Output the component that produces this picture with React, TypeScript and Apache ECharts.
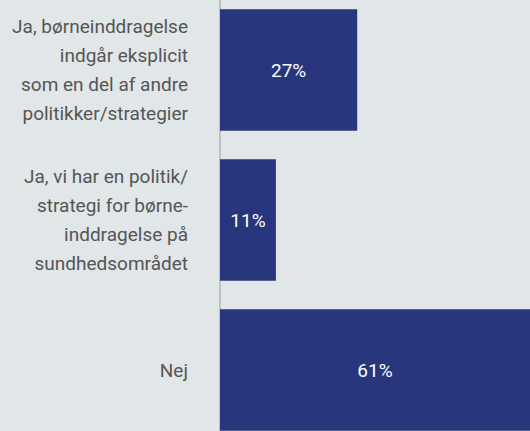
import React, { useEffect, useRef } from "react";
import * as echarts from "echarts";

const categories = [
  "Ja, børneinddragelse\nindgår eksplicit\nsom en del af andre\npolitikker/strategier",
  "Ja, vi har en politik/\nstrategi for børne-\ninddragelse på\nsundhedsområdet",
  "Nej",
];
const values = [27, 11, 61];

export default function App() {
  const ref = useRef<HTMLDivElement>(null);
  useEffect(() => {
    document.body.style.margin = "0";
    const chart = echarts.init(ref.current!, null, { renderer: "svg" });
    chart.setOption({
      animation: false,
      backgroundColor: "#e1e6e9",
      grid: { left: 220, right: 0, top: 0, bottom: 0, containLabel: false },
      xAxis: {
        type: "value",
        min: 0,
        max: 61,
        show: false,
      },
      yAxis: {
        type: "category",
        inverse: true,
        data: categories,
        axisTick: { show: false },
        axisLine: { show: true, lineStyle: { color: "#b5b5b5", width: 1.5 } },
        axisLabel: {
          margin: 32,
          fontSize: 19,
          lineHeight: 29,
          color: "#555555",
          fontFamily: "Roboto",
          align: "right",
        },
      },
      series: [
        {
          type: "bar",
          data: values,
          barWidth: "81%",
          itemStyle: { color: "#28367e" },
          label: {
            show: true,
            position: "inside",
            formatter: "{c}%",
            color: "#ffffff",
            fontSize: 19,
            fontFamily: "Roboto",
          },
        },
      ],
    });
    return () => chart.dispose();
  }, []);
  return (
    <div style={{ position: "relative", width: 530, height: 431, overflow: "hidden", background: "#e1e6e9" }}>
      <div ref={ref} style={{ position: "absolute", left: 0, top: -5, width: 530, height: 450 }} />
    </div>
  );
}
